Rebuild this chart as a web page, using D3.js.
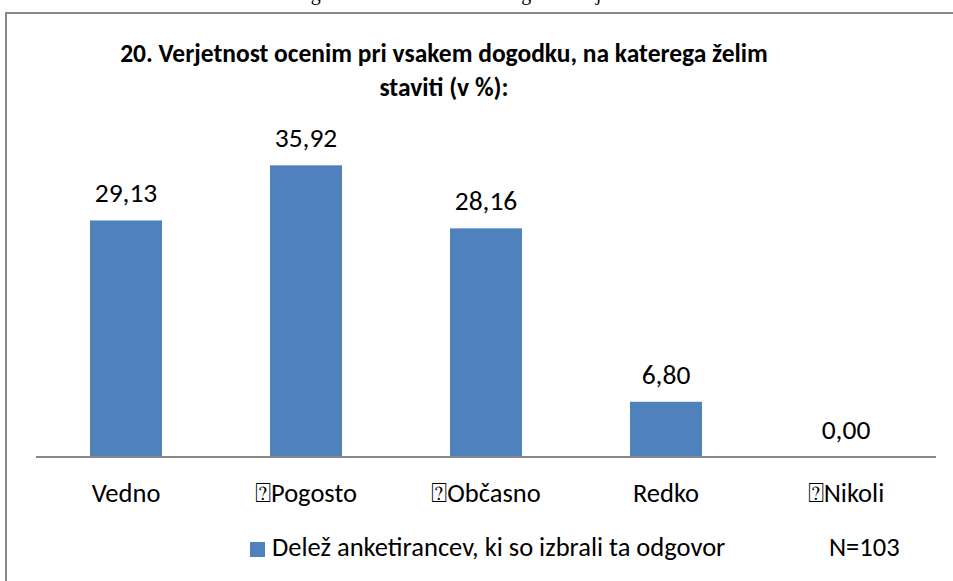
<!DOCTYPE html>
<html>
<head>
<meta charset="utf-8">
<script src="https://cdn.jsdelivr.net/npm/d3@7"></script>
<style>
  html, body { margin: 0; padding: 0; background: #fff; }
  svg { display: block; }
</style>
</head>
<body>
<svg id="chart" width="953" height="581"></svg>
<script>
const categories = ["Vedno", "\u2370Pogosto", "\u2370Občasno", "Redko", "\u2370Nikoli"];
const values = [29.13, 35.92, 28.16, 6.80, 0.00];
const valueLabels = ["29,13", "35,92", "28,16", "6,80", "0,00"];
const titleLines = ["20. Verjetnost ocenim pri vsakem dogodku, na katerega želim", "staviti (v %):"];
const seriesName = "Delež anketirancev, ki so izbrali ta odgovor";
const sampleNote = "N=103";
const captionText = "Slika 20: Ocena gotovosti ob stavi na ta dogodek in je";

const svg = d3.select("#chart");
const FONT = "Carlito, Calibri, Lato, 'Open Sans', sans-serif";

// clipped caption from the page above (only its descenders show)
svg.append("text")
  .attr("x", 178).attr("y", -0.5)
  .attr("font-family", "'Liberation Serif', 'DejaVu Serif', serif")
  .attr("font-size", 20)
  .attr("fill", "#000")
  .text(captionText);

// chart border (left and top visible)
svg.append("path")
  .attr("d", "M6,600 L6,13 L970,13")
  .attr("fill", "none")
  .attr("stroke", "#878787")
  .attr("stroke-width", 2);

const x = d3.scaleBand()
  .domain(categories)
  .range([36, 936])
  .paddingInner(0.6)
  .paddingOuter(0.3);

const y = d3.scaleLinear()
  .domain([0, 40])
  .range([457, 457 - 40 * 8.12]);

// title
const title = svg.append("text")
  .attr("text-anchor", "middle")
  .attr("font-family", FONT)
  .attr("font-weight", "bold")
  .attr("font-size", 25.5)
  .attr("fill", "#000");
title.selectAll("tspan").data(titleLines).join("tspan")
  .attr("x", 444)
  .attr("y", (d, i) => 62 + i * 34)
  .text(d => d);

// bars
svg.append("g").selectAll("rect").data(values).join("rect")
  .attr("x", (d, i) => x(categories[i]))
  .attr("width", x.bandwidth())
  .attr("y", d => y(d))
  .attr("height", d => y(0) - y(d))
  .attr("fill", "#4f81bd");

// value labels
svg.append("g").selectAll("text").data(values).join("text")
  .attr("x", (d, i) => x(categories[i]) + x.bandwidth() / 2)
  .attr("y", d => y(d) - 18)
  .attr("text-anchor", "middle")
  .attr("font-family", FONT)
  .attr("font-size", 27.5)
  .attr("fill", "#000")
  .text((d, i) => valueLabels[i]);

// x axis
const xAxis = d3.axisBottom(x).tickSize(0).tickPadding(0);
const gx = svg.append("g").attr("transform", `translate(0,${y(0)})`).call(xAxis);
gx.select(".domain").attr("stroke", "#878787").attr("stroke-width", 2).attr("d", "M36,0H936");
gx.selectAll(".tick text")
  .attr("y", 45)
  .attr("dy", 0)
  .attr("font-family", FONT)
  .attr("font-size", 26.5)
  .attr("fill", "#000");

// legend
const lg = svg.append("g");
lg.append("rect").attr("x", 250).attr("y", 542).attr("width", 15).attr("height", 15).attr("fill", "#4f81bd");
lg.append("text").attr("x", 272).attr("y", 556)
  .attr("font-family", FONT).attr("font-size", 26.5).attr("fill", "#000")
  .text(seriesName);
svg.append("text").attr("x", 829).attr("y", 556)
  .attr("font-family", FONT).attr("font-size", 26.5).attr("fill", "#000")
  .text(sampleNote);
</script>
</body>
</html>
